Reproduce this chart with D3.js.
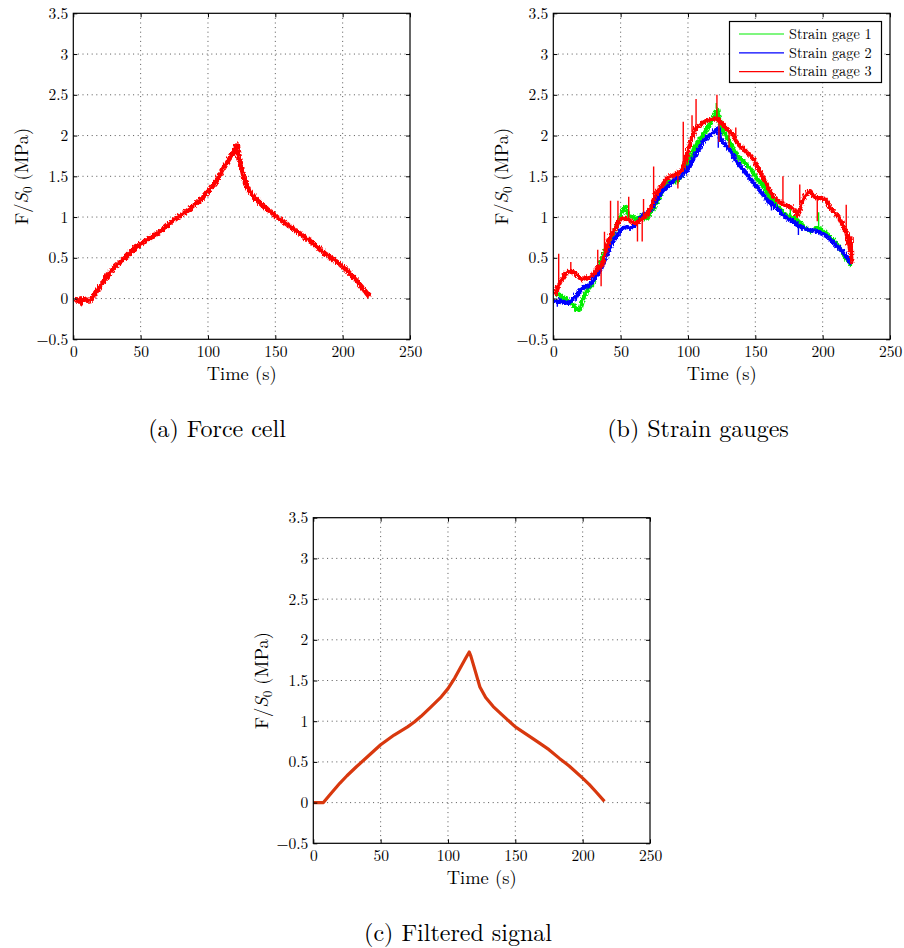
<!DOCTYPE html>
<html><head><meta charset="utf-8">
<script src="https://cdn.jsdelivr.net/npm/d3@7/dist/d3.min.js"></script>
<style>body{margin:0;background:#fff}</style>
</head><body>
<svg id="chart" width="904" height="948"></svg>
<script>
// ---------- data ----------
const xTicks = [0, 50, 100, 150, 200, 250];
const yTicks = [-0.5, 0, 0.5, 1, 1.5, 2, 2.5, 3, 3.5];
const captions = ["(a) Force cell", "(b) Strain gauges", "(c) Filtered signal"];
const seriesNames = ["Strain gage 1", "Strain gage 2", "Strain gage 3"];

// (a) force cell, [time s, F/S0 MPa]
const forceCell = [[0,0],[2,-0.01],[4,0.01],[5,-0.04],[6,0],[8,0.01],[10,-0.01],[12,0],[15,0.08],[20,0.19],[25,0.31],[30,0.41],[35,0.48],[40,0.56],[45,0.64],[50,0.70],[55,0.75],[60,0.80],[65,0.86],[70,0.93],[75,1.00],[80,1.05],[85,1.11],[90,1.18],[95,1.25],[100,1.35],[105,1.45],[110,1.60],[115,1.74],[118,1.81],[120.5,1.90],[122,1.74],[125,1.53],[128,1.39],[130,1.33],[135,1.23],[140,1.15],[145,1.09],[150,1.02],[155,0.96],[160,0.90],[165,0.84],[170,0.78],[175,0.72],[180,0.65],[185,0.58],[190,0.52],[195,0.46],[200,0.40],[205,0.31],[210,0.22],[215,0.12],[219,0.04]];

// (b) strain gauges: base trace [time, value] and isolated spikes [time, tip value]
const gage1 = [[0,0.06],[2,0.08],[5,0.04],[8,0.02],[10,-0.02],[13,-0.06],[15,-0.08],[17,-0.12],[19,-0.1],[20,-0.04],[22,0.05],[25,0.14],[28,0.2],[30,0.27],[33,0.4],[35,0.51],[38,0.62],[40,0.7],[43,0.8],[45,0.88],[48,0.98],[50,1.08],[52,1.14],[55,1.04],[58,1.02],[60,1.0],[63,1.02],[65,1.04],[68,1.0],[70,1.04],[73,1.1],[75,1.17],[78,1.26],[80,1.33],[83,1.4],[85,1.45],[88,1.46],[90,1.45],[93,1.5],[95,1.53],[98,1.62],[100,1.72],[103,1.82],[105,1.9],[108,1.97],[110,2.02],[113,2.1],[115,2.15],[118,2.25],[120,2.3],[121,2.33],[123,2.15],[125,2.07],[128,2.0],[130,1.94],[133,1.85],[135,1.78],[138,1.73],[140,1.7],[143,1.65],[145,1.62],[148,1.55],[150,1.49],[153,1.43],[156,1.39],[158,1.32],[160,1.25],[163,1.19],[165,1.15],[168,1.1],[170,1.06],[173,1.03],[175,1.02],[178,1.0],[180,0.98],[183,0.93],[185,0.9],[188,0.86],[190,0.84],[193,0.87],[195,0.88],[198,0.87],[200,0.84],[203,0.8],[205,0.76],[208,0.71],[210,0.67],[213,0.6],[215,0.55],[218,0.47],[220,0.42]];
const gage1Spikes = [[121,2.4],[155,1.53],[197,1.06],[176,1.1]];
const gage2 = [[0,0.0],[2,-0.03],[4,0.0],[5,-0.02],[8,-0.03],[10,-0.04],[13,0.0],[15,0.02],[18,0.1],[20,0.14],[23,0.16],[25,0.18],[28,0.22],[30,0.27],[33,0.35],[35,0.43],[38,0.53],[40,0.61],[43,0.7],[45,0.76],[48,0.83],[50,0.88],[53,0.9],[55,0.88],[58,0.89],[60,0.92],[63,0.98],[65,1.04],[68,1.06],[70,1.08],[73,1.14],[75,1.21],[78,1.28],[80,1.33],[83,1.38],[85,1.41],[88,1.46],[90,1.49],[93,1.51],[95,1.53],[98,1.58],[100,1.64],[103,1.73],[105,1.8],[108,1.88],[110,1.94],[113,1.99],[115,2.02],[118,2.06],[120,2.09],[122,2.1],[123,1.97],[125,1.94],[128,1.88],[130,1.84],[133,1.76],[135,1.7],[138,1.64],[140,1.6],[143,1.54],[145,1.49],[148,1.43],[150,1.39],[153,1.33],[155,1.29],[158,1.22],[160,1.19],[163,1.16],[165,1.12],[168,1.07],[170,1.04],[173,1.0],[175,0.98],[178,0.95],[180,0.92],[183,0.89],[185,0.88],[188,0.86],[190,0.86],[193,0.85],[195,0.84],[198,0.82],[200,0.8],[203,0.77],[205,0.74],[208,0.69],[210,0.65],[213,0.61],[215,0.57],[218,0.5],[220,0.44]];
const gage2Spikes = [[3,-0.1],[122.5,1.85],[162,1.08],[182,0.78]];
const gage3 = [[0,0.06],[2,0.15],[5,0.25],[8,0.32],[10,0.35],[13,0.34],[15,0.33],[18,0.28],[20,0.25],[23,0.27],[25,0.27],[28,0.3],[30,0.35],[32,0.4],[35,0.43],[38,0.6],[40,0.72],[42,0.8],[45,0.88],[47,0.95],[50,1.0],[53,1.0],[55,0.98],[58,0.95],[60,0.94],[62,0.96],[65,1.0],[67,1.02],[70,1.08],[73,1.2],[75,1.29],[78,1.37],[80,1.41],[83,1.48],[85,1.51],[88,1.53],[90,1.55],[92,1.56],[95,1.6],[98,1.75],[100,1.9],[102,2.0],[105,2.11],[108,2.15],[110,2.17],[113,2.2],[115,2.21],[118,2.22],[120,2.23],[122,2.2],[125,2.15],[128,2.1],[130,2.07],[133,2.0],[135,1.94],[138,1.88],[140,1.86],[143,1.8],[145,1.78],[148,1.72],[150,1.66],[153,1.56],[155,1.49],[158,1.4],[160,1.33],[163,1.27],[165,1.23],[168,1.19],[170,1.17],[173,1.15],[175,1.15],[178,1.1],[180,1.04],[182,1.1],[185,1.25],[188,1.32],[190,1.33],[193,1.27],[195,1.25],[198,1.26],[200,1.25],[203,1.18],[205,1.12],[208,1.07],[210,1.04],[213,0.95],[215,0.88],[217,0.82],[218,0.72],[219,0.62],[220,0.75],[220.5,0.45]];
const gage3Spikes = [[4,0.55],[13,0.45],[33,0.6],[35.5,0.15],[38,0.82],[42.5,1.2],[48,1.2],[56,1.25],[62.5,0.7],[66,0.7],[67,1.22],[74.5,1.62],[92.5,1.35],[96.5,2.17],[103,2.25],[106,2.45],[121.5,2.5],[123,1.92],[130.5,1.85],[135.5,2.1],[162,1.3],[170.5,1.5],[178.5,1.05],[183,1.4],[196,0.95],[217.5,1.15]];

// (c) filtered signal
const filtered = [[0,0],[4,0],[7.5,0],[12,0.09],[19.8,0.24],[25,0.33],[32,0.44],[40,0.56],[50,0.71],[60,0.83],[70,0.93],[75,0.99],[80,1.06],[87.6,1.18],[95,1.30],[100,1.40],[105,1.53],[109,1.65],[113,1.77],[115.8,1.85],[117,1.80],[120,1.63],[123.7,1.42],[128,1.29],[133.6,1.18],[140,1.08],[150,0.93],[160,0.82],[168,0.73],[175,0.65],[183,0.54],[190,0.45],[200,0.30],[205,0.22],[210,0.13],[215.4,0.03]];

// ---------- layout ----------
const FONT = "'Latin Modern Roman', 'Liberation Serif', serif";
const svg = d3.select("#chart");
const defs = svg.append("defs");
const noise = defs.append("filter").attr("id", "jitter").attr("x", "-5%").attr("y", "-5%").attr("width", "110%").attr("height", "110%");
noise.append("feTurbulence").attr("type", "turbulence").attr("baseFrequency", "0.9 0.25").attr("numOctaves", 1).attr("seed", 3).attr("result", "t");
noise.append("feDisplacementMap").attr("in", "SourceGraphic").attr("in2", "t").attr("scale", 4).attr("xChannelSelector", "R").attr("yChannelSelector", "G");

const panels = [
  {left:73.3, right:410, top:13.3, bottom:339.3, caption:captions[0], capX:217, capY:437},
  {left:553.3, right:890, top:13.3, bottom:339.3, caption:captions[1], capX:698, capY:437},
  {left:313.3, right:650, top:517.7, bottom:843.3, caption:captions[2], capX:458, capY:941}
];

function buildPanel(p, i) {
  const g = svg.append("g");
  const x = d3.scaleLinear().domain([0, 250]).range([p.left, p.right]);
  const y = d3.scaleLinear().domain([-0.5, 3.5]).range([p.bottom, p.top]);
  const grid = g.append("g").attr("stroke", "#555").attr("stroke-width", 1).attr("stroke-dasharray", "1,3.6");
  xTicks.slice(1, -1).forEach(t => grid.append("line").attr("x1", x(t)).attr("x2", x(t)).attr("y1", p.top).attr("y2", p.bottom));
  yTicks.slice(1, -1).forEach(t => grid.append("line").attr("y1", y(t)).attr("y2", y(t)).attr("x1", p.left).attr("x2", p.right));
  const clipId = "clip" + i;
  defs.append("clipPath").attr("id", clipId).append("rect")
    .attr("x", p.left).attr("y", p.top).attr("width", p.right - p.left).attr("height", p.bottom - p.top);
  const plot = g.append("g").attr("clip-path", `url(#${clipId})`);
  const bottomAxis = d3.axisBottom(x).tickValues(xTicks).tickSize(-4).tickPadding(7).tickFormat(d3.format("d"));
  const leftAxis = d3.axisLeft(y).tickValues(yTicks).tickSize(-4).tickPadding(5).tickFormat(d => d < 0 ? "\u2212" + Math.abs(d) : String(d));
  const topAxis = d3.axisTop(x).tickValues(xTicks).tickSize(-4).tickFormat("");
  const rightAxis = d3.axisRight(y).tickValues(yTicks).tickSize(-4).tickFormat("");
  const styleAxis = a => { a.attr("font-family", FONT).attr("font-size", 15.5); a.select(".domain").remove(); a.selectAll("line").attr("stroke", "#000"); a.selectAll("text").attr("fill", "#000"); };
  const axesG = svg.append("g");
  axesG.append("g").attr("transform", `translate(0,${p.bottom})`).call(bottomAxis).call(styleAxis);
  axesG.append("g").attr("transform", `translate(${p.left},0)`).call(leftAxis).call(styleAxis);
  axesG.append("g").attr("transform", `translate(0,${p.top})`).call(topAxis).call(styleAxis);
  axesG.append("g").attr("transform", `translate(${p.right},0)`).call(rightAxis).call(styleAxis);
  axesG.append("rect").attr("x", p.left).attr("y", p.top).attr("width", p.right - p.left).attr("height", p.bottom - p.top)
    .attr("fill", "none").attr("stroke", "#000").attr("stroke-width", 1.2);
  axesG.append("text").attr("x", (p.left + p.right) / 2).attr("y", p.bottom + 41).attr("text-anchor", "middle")
    .attr("font-family", FONT).attr("font-size", 18.5).text("Time (s)");
  const yl = axesG.append("text").attr("transform", `translate(${p.left - 45.5},${(p.top + p.bottom) / 2}) rotate(-90)`)
    .attr("text-anchor", "middle").attr("font-family", FONT).attr("font-size", 18.5);
  yl.append("tspan").text("F/");
  yl.append("tspan").attr("font-style", "italic").text("S");
  yl.append("tspan").attr("dy", 4).attr("font-size", 13).text("0");
  yl.append("tspan").attr("dy", -4).text(" (MPa)");
  axesG.append("text").attr("x", p.capX).attr("y", p.capY).attr("text-anchor", "middle")
    .attr("font-family", FONT).attr("font-size", 24).text(p.caption);
  return {x, y, plot};
}

const line = (x, y) => d3.line().x(d => x(d[0])).y(d => y(d[1]));
const baseAt = (s, t) => {
  const i = d3.bisector(d => d[0]).left(s, t);
  if (i <= 0) return s[0][1];
  if (i >= s.length) return s[s.length - 1][1];
  const a = s[i - 1], b = s[i], f = (t - a[0]) / (b[0] - a[0]);
  return a[1] + f * (b[1] - a[1]);
};

// panel a
{
  const {x, y, plot} = buildPanel(panels[0], 0);
  plot.append("path").datum(forceCell).attr("d", line(x, y)).attr("fill", "none")
    .attr("stroke", "#ff0000").attr("stroke-width", 5).attr("stroke-linejoin", "round")
    .attr("filter", "url(#jitter)");
}
// panel b
{
  const {x, y, plot} = buildPanel(panels[1], 1);
  const colors = ["#00ee00", "#0000ff", "#ff0000"];
  const series = [[gage1, gage1Spikes], [gage2, gage2Spikes], [gage3, gage3Spikes]];
  series.forEach(([s, spikes], k) => {
    const sg = plot.append("g");
    sg.append("path").datum(s).attr("d", line(x, y)).attr("fill", "none")
      .attr("stroke", colors[k]).attr("stroke-width", 4.4).attr("stroke-linejoin", "round")
      .attr("filter", "url(#jitter)");
    sg.selectAll("line.spike").data(spikes).join("line").attr("class", "spike")
      .attr("x1", d => x(d[0])).attr("x2", d => x(d[0]))
      .attr("y1", d => y(baseAt(s, d[0]))).attr("y2", d => y(d[1]))
      .attr("stroke", colors[k]).attr("stroke-width", 1.4);
  });
  const lg = svg.append("g");
  lg.append("rect").attr("x", 729.5).attr("y", 21.5).attr("width", 152).attr("height", 61)
    .attr("fill", "#fff").attr("stroke", "#000").attr("stroke-width", 1.2);
  seriesNames.forEach((n, k) => {
    const yy = 34 + k * 18.8;
    lg.append("line").attr("x1", 739).attr("x2", 784).attr("y1", yy).attr("y2", yy).attr("stroke", colors[k]).attr("stroke-width", 1.2);
    lg.append("text").attr("x", 789).attr("y", yy + 4.8).attr("font-family", FONT).attr("font-size", 14.3).text(n);
  });
}
// panel c
{
  const {x, y, plot} = buildPanel(panels[2], 2);
  plot.append("path").datum(filtered).attr("d", line(x, y)).attr("fill", "none")
    .attr("stroke", "#d8380e").attr("stroke-width", 3.2).attr("stroke-linejoin", "round").attr("stroke-linecap", "square");
}
</script>
</body></html>
